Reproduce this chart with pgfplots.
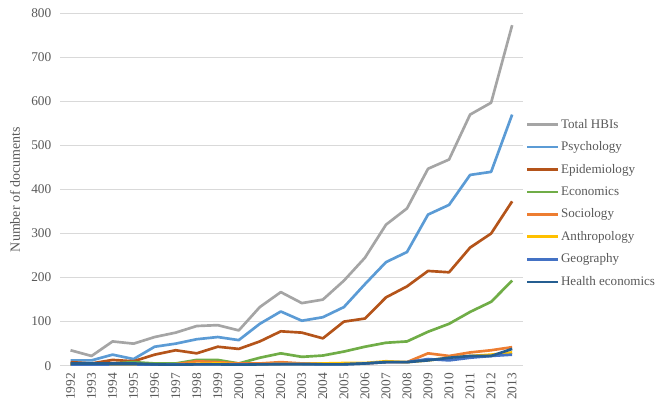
\documentclass[border=0pt]{standalone}
\usepackage{pgfplots}
\pgfplotsset{compat=1.18}
\usepackage{fontspec}
\setmainfont{Liberation Serif}
\definecolor{cTot}{HTML}{A5A5A5}
\definecolor{cPsy}{HTML}{5B9BD5}
\definecolor{cEpi}{HTML}{B4541A}
\definecolor{cEco}{HTML}{70AD47}
\definecolor{cSoc}{HTML}{ED7D31}
\definecolor{cAnt}{HTML}{FFC000}
\definecolor{cGeo}{HTML}{4472C4}
\definecolor{cHea}{HTML}{255E91}
\definecolor{cGrid}{HTML}{D9D9D9}
\definecolor{cTxt}{HTML}{595959}
\begin{document}
\begin{tikzpicture}[x=1pt,y=1pt]
\path[use as bounding box] (0,0) rectangle (495,305.25);
\begin{axis}[
  at={(45pt,31pt)}, anchor=south west,
  scale only axis, width=347pt, height=264.3pt,
  xmin=1991.5, xmax=2013.5, ymin=0, ymax=800,
  xtick={1992,...,2013},
  ytick={0,100,...,800},
  xticklabel style={rotate=90, anchor=east, font=\fontsize{10}{10}\selectfont, text=cTxt},
  yticklabel style={font=\fontsize{10}{10}\selectfont, text=cTxt},
  /pgf/number format/assume math mode=true,
  /pgf/number format/1000 sep={},
  xticklabel={\pgfmathprintnumber[precision=0,fixed,1000 sep={}]{\tick}},
  major tick length=0pt,
  xtick pos=bottom, ytick pos=left,
  ymajorgrids, grid style={cGrid, line width=0.7pt},
  axis line style={draw=none},
  ylabel={Number of documents},
  ylabel style={font=\fontsize{10.5}{10.5}\selectfont, text=cTxt, at={(axis description cs:-0.097,0.5)}, anchor=center, rotate=0},
  xticklabel shift=2pt, yticklabel shift=3pt,
  legend cell align=left,
  legend style={at={(rel axis cs:1.006,0.461)}, anchor=west, draw=none, fill=none,
    font=\fontsize{9.8}{9.8}\selectfont, text=cTxt, row sep=4.6pt, inner xsep=0pt,
    nodes={inner xsep=1.5pt}},
  legend image code/.code={\draw[#1, line width=2pt] (0pt,0pt) -- (23pt,0pt);},
  every axis plot/.append style={line width=2pt, line join=round, mark=none},
]
\addplot[cTot] coordinates {(1992,35)(1993,22)(1994,55)(1995,50)(1996,65)(1997,75)(1998,90)(1999,92)(2000,80)(2001,133)(2002,167)(2003,142)(2004,150)(2005,193)(2006,245)(2007,320)(2008,357)(2009,447)(2010,468)(2011,570)(2012,597)(2013,773)};
\addlegendentry{Total HBIs}
\addplot[cPsy] coordinates {(1992,12)(1993,12)(1994,25)(1995,15)(1996,43)(1997,50)(1998,60)(1999,65)(2000,58)(2001,95)(2002,123)(2003,102)(2004,110)(2005,133)(2006,185)(2007,235)(2008,258)(2009,343)(2010,365)(2011,433)(2012,440)(2013,570)};
\addlegendentry{Psychology}
\addplot[cEpi] coordinates {(1992,8)(1993,5)(1994,13)(1995,10)(1996,25)(1997,35)(1998,28)(1999,43)(2000,38)(2001,55)(2002,78)(2003,75)(2004,62)(2005,100)(2006,107)(2007,155)(2008,180)(2009,215)(2010,212)(2011,268)(2012,300)(2013,373)};
\addlegendentry{Epidemiology}
\addplot[cEco] coordinates {(1992,3)(1993,3)(1994,5)(1995,8)(1996,5)(1997,5)(1998,13)(1999,13)(2000,5)(2001,18)(2002,28)(2003,20)(2004,23)(2005,32)(2006,43)(2007,52)(2008,55)(2009,77)(2010,95)(2011,122)(2012,145)(2013,193)};
\addlegendentry{Economics}
\addplot[cSoc] coordinates {(1992,3)(1993,3)(1994,3)(1995,3)(1996,2)(1997,3)(1998,10)(1999,8)(2000,5)(2001,5)(2002,8)(2003,5)(2004,5)(2005,5)(2006,5)(2007,8)(2008,8)(2009,28)(2010,22)(2011,30)(2012,35)(2013,42)};
\addlegendentry{Sociology}
\addplot[cAnt] coordinates {(1992,1)(1993,1)(1994,2)(1995,2)(1996,3)(1997,3)(1998,4)(1999,5)(2000,3)(2001,3)(2002,4)(2003,4)(2004,5)(2005,6)(2006,6)(2007,10)(2008,8)(2009,12)(2010,18)(2011,22)(2012,25)(2013,30)};
\addlegendentry{Anthropology}
\addplot[cGeo] coordinates {(1992,2)(1993,2)(1994,3)(1995,3)(1996,2)(1997,3)(1998,3)(1999,3)(2000,3)(2001,3)(2002,4)(2003,4)(2004,3)(2005,3)(2006,5)(2007,8)(2008,8)(2009,15)(2010,12)(2011,18)(2012,22)(2013,25)};
\addlegendentry{Geography}
\addplot[cHea] coordinates {(1992,5)(1993,5)(1994,5)(1995,5)(1996,3)(1997,2)(1998,3)(1999,3)(2000,2)(2001,3)(2002,3)(2003,3)(2004,3)(2005,3)(2006,5)(2007,8)(2008,8)(2009,12)(2010,18)(2011,22)(2012,22)(2013,38)};
\addlegendentry{Health economics}
\end{axis}
\end{tikzpicture}
\end{document}
